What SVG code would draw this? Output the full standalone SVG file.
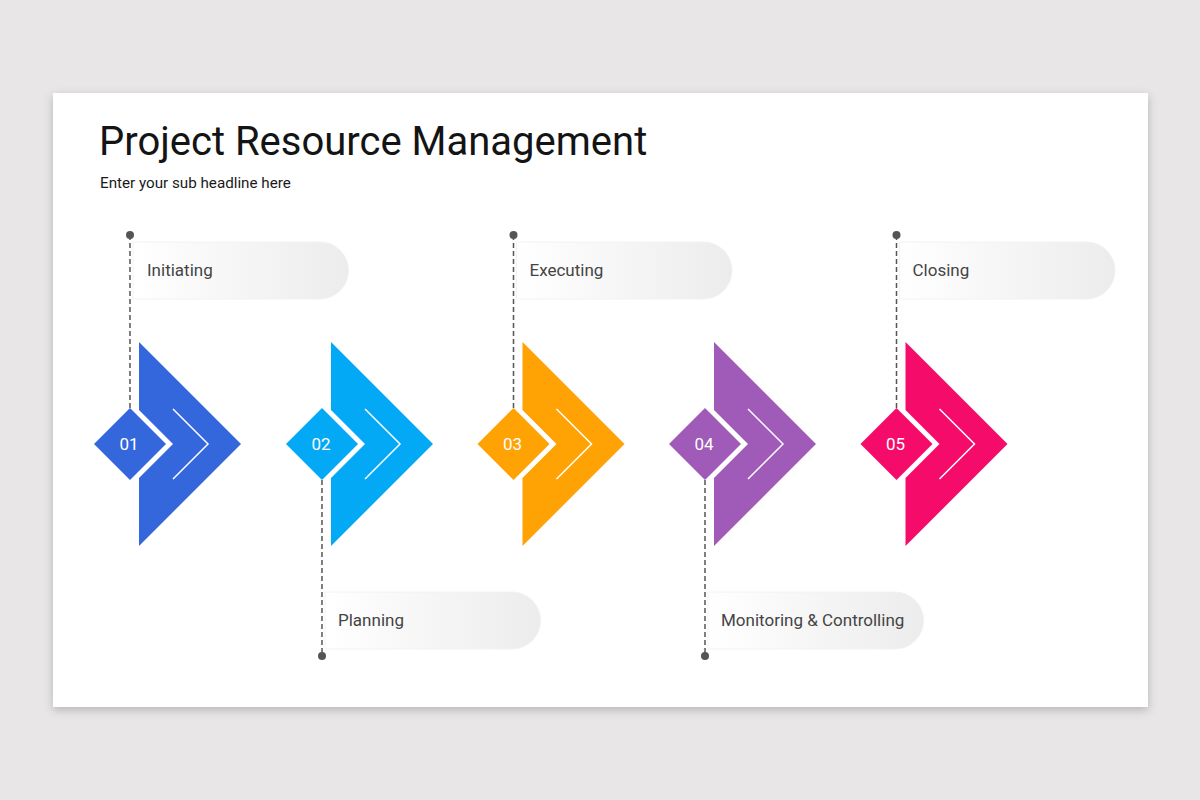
<svg xmlns="http://www.w3.org/2000/svg" width="1200" height="800" viewBox="0 0 1200 800">
  <defs>
    <filter id="sh" x="-5%" y="-5%" width="110%" height="115%">
      <feDropShadow dx="0" dy="3" stdDeviation="5" flood-color="#000" flood-opacity="0.22"/>
    </filter>
    <linearGradient id="pill" x1="0" y1="0" x2="1" y2="0">
      <stop offset="0" stop-color="#ffffff"/>
      <stop offset="1" stop-color="#ececec"/>
    </linearGradient>
    <path id="chev" d="M9,-102 L111,0 L9,102 L9,34 L43,0 L9,-34 Z"/>
    <path id="dia" d="M0,-36 L36,0 L0,36 L-36,0 Z"/>
    <path id="inner" d="M43,-35 L78,0 L43,35"/>
    <path id="pillT" d="M3,-202 H190 A28.5,28.5 0 0 1 190,-145 H3 Z"/>
    <path id="pillB" d="M3,148 H190 A28.5,28.5 0 0 1 190,205 H3 Z"/>
  </defs>
  <style>
    .title{font-family:Roboto,"Liberation Sans",sans-serif;font-size:40px;fill:#141414}
    .sub{font-family:Roboto,"Liberation Sans",sans-serif;font-size:15.2px;fill:#1a1a1a}
    .lbl{font-family:Roboto,"Liberation Sans",sans-serif;font-size:17px;fill:#444}
    .num{font-family:Roboto,"Liberation Sans",sans-serif;font-size:17px;fill:#fff;text-anchor:middle}
    .inner{fill:none;stroke:#fff;stroke-width:1.5}
    .dash{stroke:#555;stroke-width:1.5;stroke-dasharray:5 3;fill:none}
    .dot{fill:#555}
    .pill{fill:url(#pill);stroke:#f2f2f2;stroke-width:1}
  </style>
  <rect x="0" y="0" width="1200" height="800" fill="#e8e6e7"/>
  <rect x="53" y="93" width="1095" height="614" fill="#fff" filter="url(#sh)"/>
  <text class="title" x="99" y="155">Project Resource Management</text>
  <text class="sub" x="100" y="188">Enter your sub headline here</text>

  <g id="connectors">
    <line class="dash" x1="130" y1="235" x2="130" y2="408"/>
    <circle class="dot" cx="130" cy="235" r="4"/>
    <line class="dash" x1="322" y1="480" x2="322" y2="656"/>
    <circle class="dot" cx="322" cy="656" r="4"/>
    <line class="dash" x1="513.5" y1="235" x2="513.5" y2="408"/>
    <circle class="dot" cx="513.5" cy="235" r="4"/>
    <line class="dash" x1="705" y1="480" x2="705" y2="656"/>
    <circle class="dot" cx="705" cy="656" r="4"/>
    <line class="dash" x1="896.5" y1="235" x2="896.5" y2="408"/>
    <circle class="dot" cx="896.5" cy="235" r="4"/>
  </g>

  <g id="step1" transform="translate(130,444)">
    <use href="#pillT" class="pill"/>
    <text class="lbl" x="17" y="-168">Initiating</text>
    <use href="#chev" fill="#3567dc"/>
    <use href="#dia" fill="#3567dc"/>
    <use href="#inner" class="inner"/>
    <text class="num" x="-1" y="6">01</text>
  </g>
  <g id="step2" transform="translate(322,444)">
    <use href="#pillB" class="pill"/>
    <text class="lbl" x="16" y="182">Planning</text>
    <use href="#chev" fill="#03a9f4"/>
    <use href="#dia" fill="#03a9f4"/>
    <use href="#inner" class="inner"/>
    <text class="num" x="-1" y="6">02</text>
  </g>
  <g id="step3" transform="translate(513.5,444)">
    <use href="#pillT" class="pill"/>
    <text class="lbl" x="16" y="-168">Executing</text>
    <use href="#chev" fill="#ffa204"/>
    <use href="#dia" fill="#ffa204"/>
    <use href="#inner" class="inner"/>
    <text class="num" x="-1" y="6">03</text>
  </g>
  <g id="step4" transform="translate(705,444)">
    <use href="#pillB" class="pill"/>
    <text class="lbl" x="16" y="182">Monitoring &amp; Controlling</text>
    <use href="#chev" fill="#a05ab8"/>
    <use href="#dia" fill="#a05ab8"/>
    <use href="#inner" class="inner"/>
    <text class="num" x="-1" y="6">04</text>
  </g>
  <g id="step5" transform="translate(896.5,444)">
    <use href="#pillT" class="pill"/>
    <text class="lbl" x="16" y="-168">Closing</text>
    <use href="#chev" fill="#f50c6a"/>
    <use href="#dia" fill="#f50c6a"/>
    <use href="#inner" class="inner"/>
    <text class="num" x="-1" y="6">05</text>
  </g>
</svg>
